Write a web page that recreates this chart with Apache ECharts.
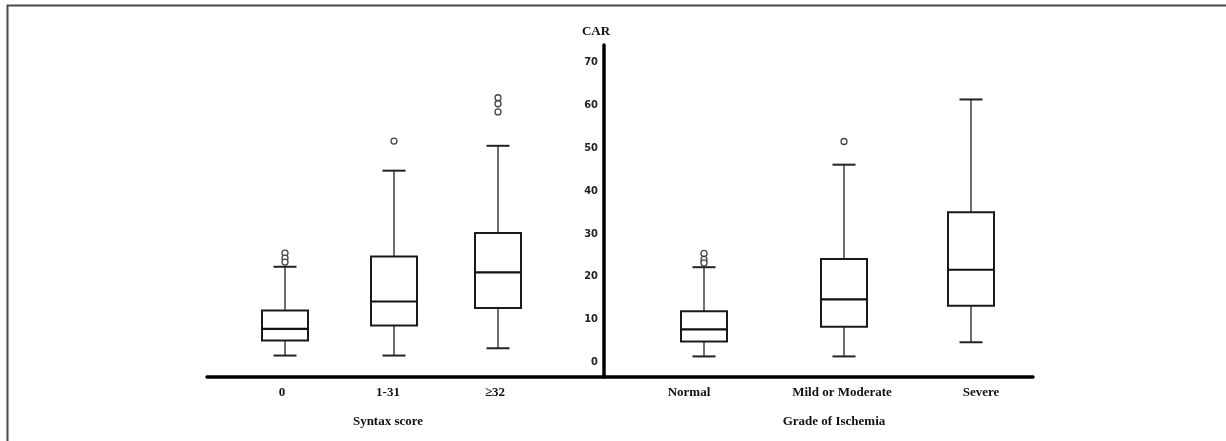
<!DOCTYPE html>
<html><head><meta charset="utf-8">
<script src="https://cdn.jsdelivr.net/npm/echarts@6/dist/echarts.min.js"></script>
<style>html,body{margin:0;padding:0;background:#fff}#c{width:1226px;height:441px}</style>
</head><body><div id="c"></div>
<script>
// ---- data ----
const categories = ['0', '1-31', '≥32', 'Normal', 'Mild or Moderate', 'Severe'];
const groupTitles = ['Syntax score', 'Grade of Ischemia'];
// slot positions along the x scale (y-axis sits at 0)
const boxPositions = [-31.9, -21.0, -10.6, 10.0, 24.0, 36.7];
const labelPositions = [-32.2, -21.6, -10.9, 8.5, 23.8, 37.7];
const groupPositions = [-21.6, 23.0];
const minValues    = [1.6, 1.6, 3.3, 1.4, 1.4, 4.7];
const q1Values     = [5.1, 8.6, 12.7, 4.9, 8.3, 13.2];
const medianValues = [7.8, 14.2, 21.0, 7.7, 14.7, 21.6];
const q3Values     = [12.1, 24.7, 30.2, 11.9, 24.1, 35.0];
const maxValues    = [22.3, 44.7, 50.5, 22.2, 46.1, 61.3];
const outlierGroup = [0, 0, 0, 1, 2, 2, 2, 3, 3, 3, 4];
const outlierValues = [25.5, 24.3, 23.4, 51.6, 61.7, 60.3, 58.4, 25.4, 24.0, 23.2, 51.5];
const yTicks = [0, 10, 20, 30, 40, 50, 60, 70];

const serif = '"Liberation Serif", "Times New Roman", serif';
const narrow = '"Liberation Sans Narrow", "Arial Narrow", "DejaVu Sans Condensed", sans-serif';

const xMin = -39.7, xMax = 42.9;
const gridLeft = 207, gridRight = 193, W = 1226;
const plotW = W - gridLeft - gridRight;
const yAxisShift = (0 - xMin) / (xMax - xMin) * plotW; // move y-axis to x = 0

const boxData = boxPositions.map((x, i) => [x, minValues[i], q1Values[i], medianValues[i], q3Values[i], maxValues[i]]);
const outlierData = outlierGroup.map((g, i) => [boxPositions[g], outlierValues[i]]);

const chart = echarts.init(document.getElementById('c'), null, {renderer: 'canvas'});
chart.setOption({
  backgroundColor: '#fff',
  animation: false,
  graphic: [{
    type: 'rect', left: 5, top: 3, silent: true,
    shape: {x: 0, y: 0, width: 1240, height: 460},
    style: {fill: 'none', stroke: '#4a4a4a', lineWidth: 2}
  }],
  grid: {left: gridLeft, right: gridRight, top: 45, bottom: 64, containLabel: false, outerBoundsMode: 'none'},
  xAxis: [{
    type: 'value', min: xMin, max: xMax, position: 'bottom',
    axisLine: {show: true, onZero: false, lineStyle: {color: '#000', width: 3.5}},
    axisTick: {show: false}, splitLine: {show: false},
    axisLabel: {
      customValues: labelPositions,
      formatter: v => categories[labelPositions.indexOf(v)] || '',
      fontFamily: serif, fontWeight: 'bold', fontSize: 13, color: '#111', margin: 9
    }
  }, {
    type: 'value', min: xMin, max: xMax, position: 'bottom', offset: 30,
    axisLine: {show: false}, axisTick: {show: false}, splitLine: {show: false},
    axisLabel: {
      customValues: groupPositions,
      formatter: v => groupTitles[groupPositions.indexOf(v)] || '',
      fontFamily: serif, fontWeight: 'bold', fontSize: 13, color: '#111', margin: 8
    }
  }],
  yAxis: {
    type: 'value', min: -3.4, max: 74, position: 'left', offset: -yAxisShift,
    name: 'CAR', nameLocation: 'end', nameGap: 7,
    nameTextStyle: {fontFamily: serif, fontWeight: 'bold', fontSize: 13, color: '#111', padding: [0, 16, 0, 0]},
    axisLine: {show: true, onZero: false, lineStyle: {color: '#000', width: 3.5}},
    axisTick: {show: false}, splitLine: {show: false},
    axisLabel: {customValues: yTicks, fontFamily: narrow, fontWeight: 'bold', fontSize: 11, color: '#222', margin: 6}
  },
  series: [{
    type: 'custom', xAxisIndex: 0, yAxisIndex: 0,
    data: boxData,
    encode: {x: 0, y: [1, 2, 3, 4, 5]},
    renderItem: function (params, api) {
      const x = api.value(0);
      const pMin = api.coord([x, api.value(1)]);
      const pQ1 = api.coord([x, api.value(2)]);
      const pMed = api.coord([x, api.value(3)]);
      const pQ3 = api.coord([x, api.value(4)]);
      const pMax = api.coord([x, api.value(5)]);
      const half = 23, capHalf = 11.5, cx = pMed[0];
      const boxStyle = {stroke: '#1a1a1a', lineWidth: 2, fill: 'none'};
      const whiskerStyle = {stroke: '#4a4a4a', lineWidth: 1.6};
      const capStyle = {stroke: '#222', lineWidth: 2};
      return {type: 'group', children: [
        {type: 'line', shape: {x1: cx, y1: pMax[1], x2: cx, y2: pQ3[1]}, style: whiskerStyle},
        {type: 'line', shape: {x1: cx, y1: pQ1[1], x2: cx, y2: pMin[1]}, style: whiskerStyle},
        {type: 'line', shape: {x1: cx - capHalf, y1: pMax[1], x2: cx + capHalf, y2: pMax[1]}, style: capStyle},
        {type: 'line', shape: {x1: cx - capHalf, y1: pMin[1], x2: cx + capHalf, y2: pMin[1]}, style: capStyle},
        {type: 'rect', shape: {x: cx - half, y: pQ3[1], width: 2 * half, height: pQ1[1] - pQ3[1]}, style: boxStyle},
        {type: 'line', shape: {x1: cx - half, y1: pMed[1], x2: cx + half, y2: pMed[1]}, style: {stroke: '#111', lineWidth: 2.2}}
      ]};
    }
  }, {
    type: 'scatter', xAxisIndex: 0, yAxisIndex: 0,
    data: outlierData,
    symbol: 'circle', symbolSize: 6,
    itemStyle: {color: '#fff', borderColor: '#444', borderWidth: 1.3, opacity: 1}
  }]
});
</script></body></html>
